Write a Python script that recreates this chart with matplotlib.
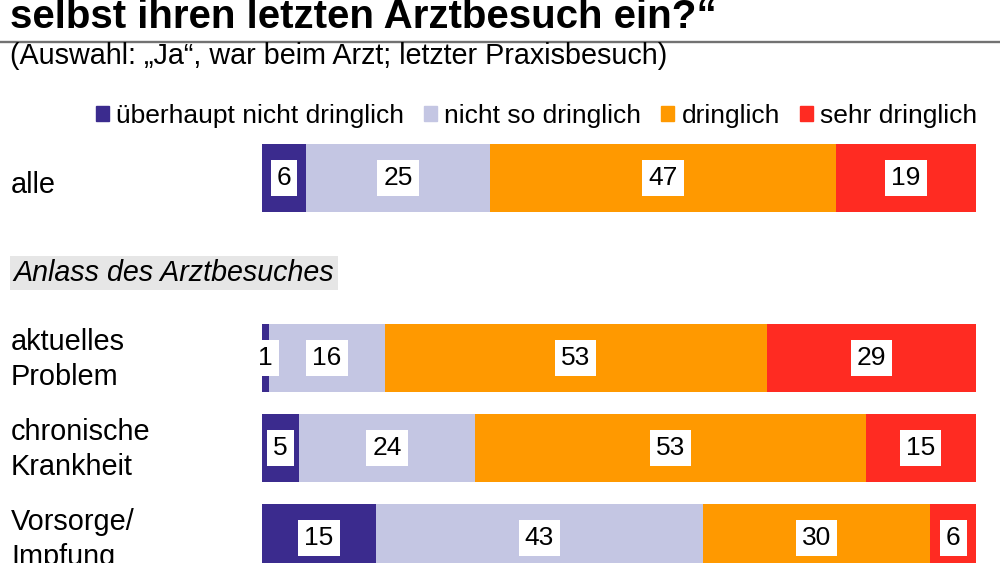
import matplotlib
matplotlib.use('Agg')
from matplotlib import pyplot as plt
from matplotlib.lines import Line2D
from matplotlib.patches import Patch
from matplotlib.transforms import blended_transform_factory
import numpy as np

plt.rcParams['font.family'] = ['Liberation Sans', 'DejaVu Sans']

# data (percent)
groups = ['alle', 'aktuelles\nProblem', 'chronische\nKrankheit', 'Vorsorge/\nImpfung']
rows = [0, 2, 3, 4]   # row 1 holds the section header
section = 'Anlass des Arztbesuches'
series = ['überhaupt nicht dringlich', 'nicht so dringlich', 'dringlich', 'sehr dringlich']
ueberhaupt_nicht = [6, 1, 5, 15]
nicht_so = [25, 16, 24, 43]
dringlich = [47, 53, 53, 30]
sehr = [19, 29, 15, 6]
colors = ['#3b2b8e', '#c4c6e3', '#ff9900', '#ff2b22']

title = 'selbst ihren letzten Arztbesuch ein?\u201c'
subtitle = '(Auswahl: \u201eJa\u201c, war beim Arzt; letzter Praxisbesuch)'

H = 563.0
fig = plt.figure(figsize=(10, 5.63), dpi=100)
ax = fig.add_axes([0.262, 0, 0.714, 1])
ax.set_xlim(0, 1)
# one row = 90 px, row 0 centred 178 px from the top
ax.set_ylim((H - 178) / 90, -178 / 90)
ax.axis('off')

vals = np.array([ueberhaupt_nicht, nicht_so, dringlich, sehr], dtype=float)
shares = vals / vals.sum(axis=0)
left = np.zeros(len(groups))
for i, name in enumerate(series):
    ax.barh(rows, shares[i], left=left, height=0.76, color=colors[i], label=name)
    for y, l, w, v in zip(rows, left, shares[i], vals[i]):
        ax.text(l + w / 2, y, '%d' % v, ha='center', va='center', fontsize=19,
                bbox=dict(boxstyle='square,pad=0.23', fc='white', ec='none'))
    left += shares[i]

# row labels, one text per line, baselines in px relative to row centre
tr = blended_transform_factory(fig.transFigure, ax.transData)
for y, g in zip(rows, groups):
    lines = g.split('\n')
    base = 15 - 23 * (len(lines) - 1)
    for k, line in enumerate(lines):
        fig.text(0.011, y + (base + 35 * k) / 90, line, transform=tr,
                 ha='left', va='baseline', fontsize=20.8)
fig.text(0.0135, 1 + 5 / 90, section, transform=tr, ha='left', va='center',
         fontsize=20.6, style='italic',
         bbox=dict(boxstyle='square,pad=0.12', fc='#e6e6e6', ec='none'))

# header
fig.text(0.01, 1 - 28.5 / H, title, fontsize=29, weight='bold', va='baseline')
fig.add_artist(Line2D([0, 1], [1 - 41.5 / H] * 2, color='#727272', lw=1.7))
fig.text(0.01, 1 - 63.5 / H, subtitle, fontsize=20.7, va='baseline')

handles = [Patch(color=c) for c in colors]
fig.legend(handles, series, loc='center right', bbox_to_anchor=(0.977, 1 - 116 / H),
           ncol=4, frameon=False, fontsize=19, handlelength=0.5, handleheight=0.5,
           handletextpad=0.27, columnspacing=0.75, borderpad=0, borderaxespad=0)

plt.savefig('out.png', dpi=100)
